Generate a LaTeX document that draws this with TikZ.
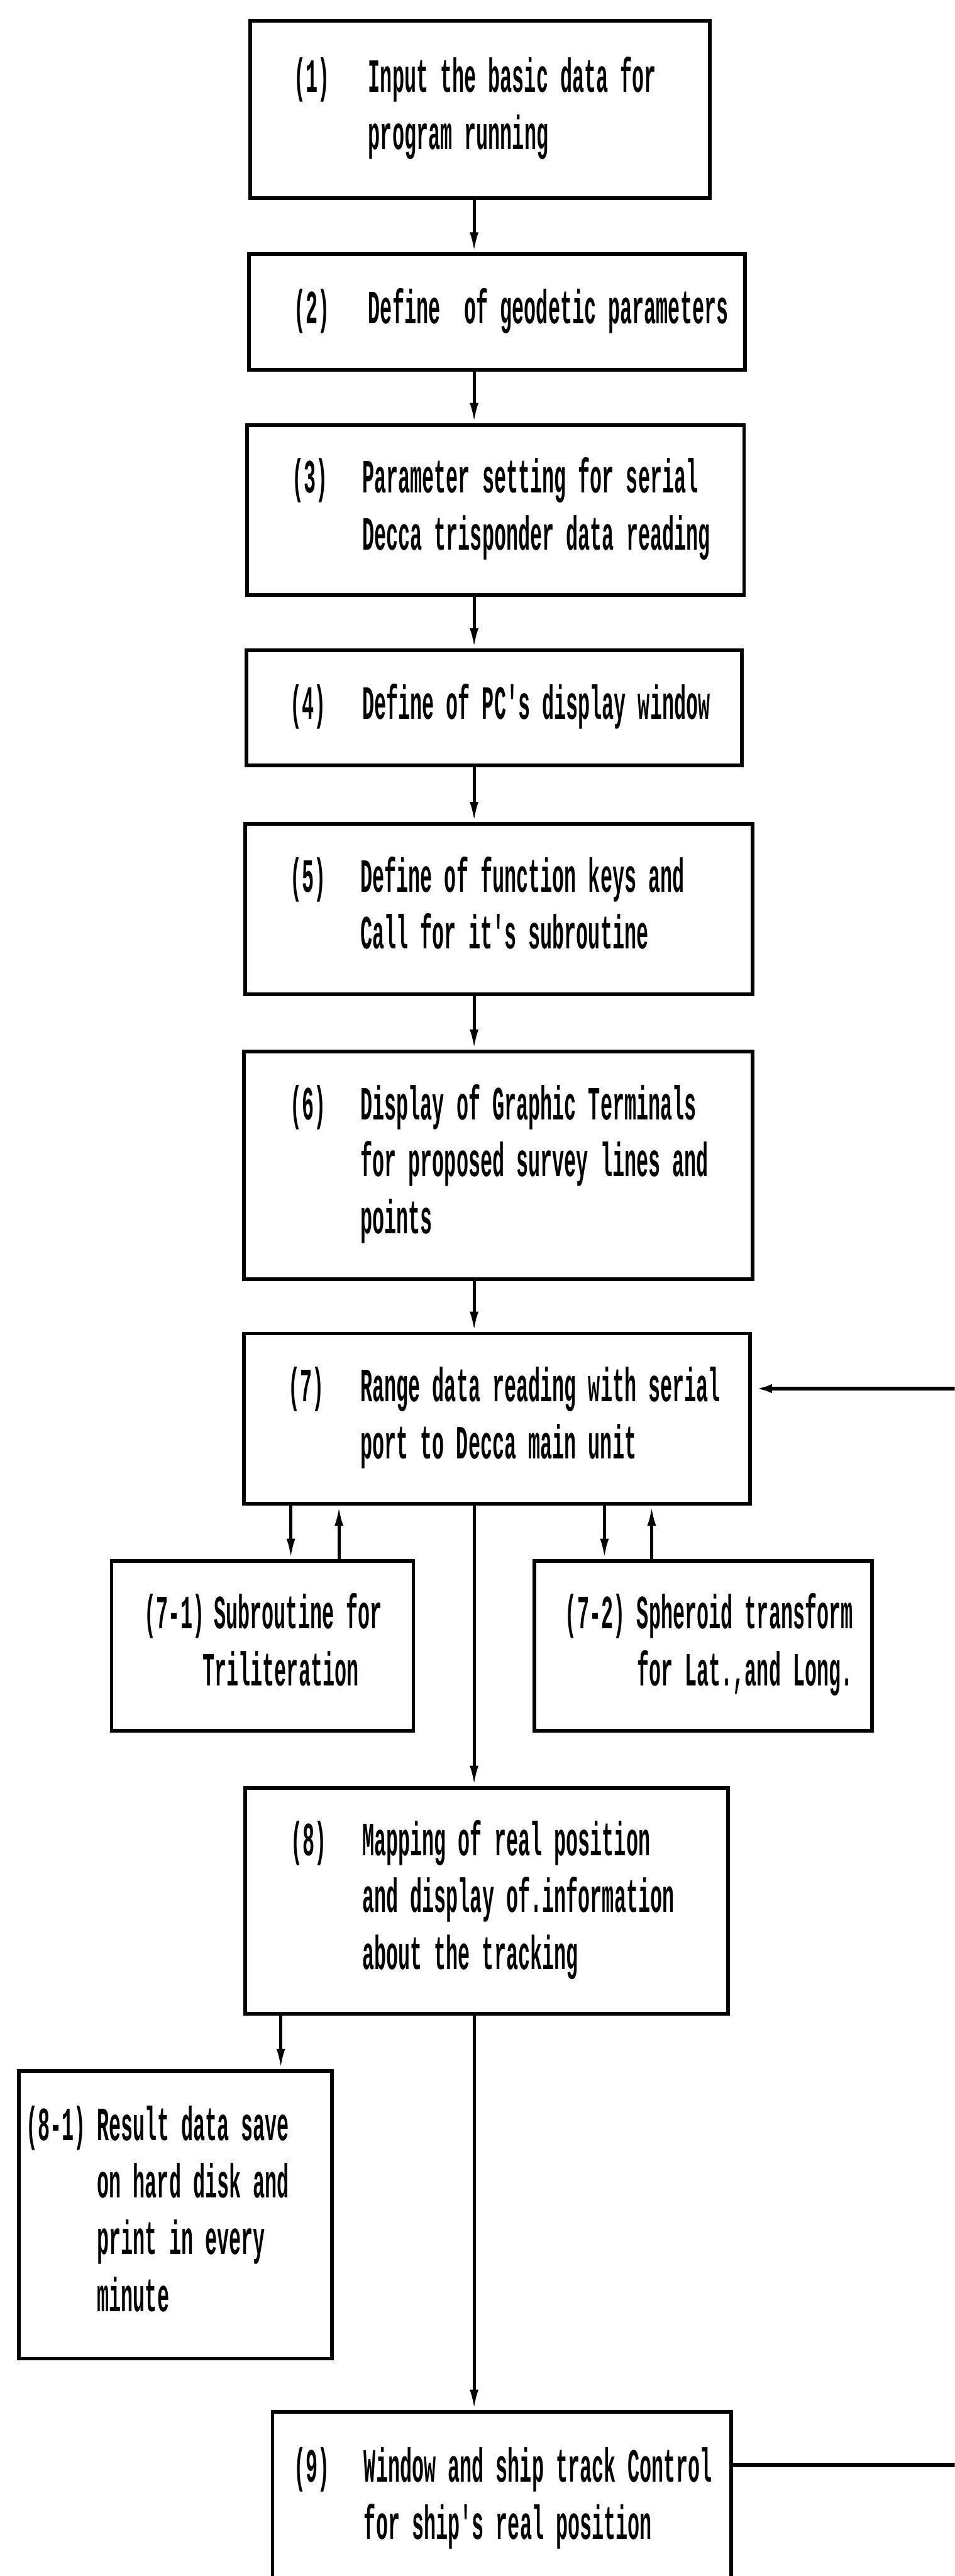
\documentclass[tikz,border=0pt]{standalone}
\usepackage{fontspec}
\newfontfamily\scanfont[FakeStretch=0.42]{Liberation Mono}
\usepackage{tikz}
\usetikzlibrary{arrows.meta}
\usetikzlibrary{positioning}

\tikzset{
  stepbox/.style={draw, line width=2.4pt, anchor=north west, inner xsep=0pt, inner ysep=0pt,
    align=left, font={\scanfont\bfseries\fontsize{31}{37}\selectfont},
    execute at begin node={\spaceskip=0.273cm\relax}},
  flow/.style={line width=2pt, -{Latex[length=0.46cm,width=0.2cm]}},
}

\begin{document}
\begin{tikzpicture}
\useasboundingbox (0,0) rectangle (21.83,-58.88);
\clip (0,0) rectangle (21.83,-58.88);
% main chain
\node[stepbox, text width=10.51cm, minimum height=4.05cm] (b1) at (5.68,-0.43)
  {\hspace*{1cm}\begin{tabular}{@{}p{1.70cm}@{}l@{}}(1) & Input the basic data for\\ & program running\end{tabular}};
\node[stepbox, text width=11.34cm, minimum height=2.64cm] (b2) at (5.65,-5.77)
  {\hspace*{1.03cm}\begin{tabular}{@{}p{1.70cm}@{}l@{}}(2) & Define~ of geodetic parameters\end{tabular}};
\node[stepbox, text width=11.36cm, minimum height=3.89cm] (b3) at (5.61,-9.67)
  {\hspace*{1.02cm}\begin{tabular}{@{}p{1.61cm}@{}l@{}}(3) & Parameter setting for serial\\ & Decca trisponder data reading\end{tabular}};
\node[stepbox, text width=11.33cm, minimum height=2.63cm] (b4) at (5.59,-14.82)
  {\hspace*{1cm}\begin{tabular}{@{}p{1.65cm}@{}l@{}}(4) & Define of PC's display window\end{tabular}};
\node[stepbox, text width=11.61cm, minimum height=3.89cm] (b5) at (5.56,-18.79)
  {\hspace*{1.03cm}\begin{tabular}{@{}p{1.61cm}@{}l@{}}(5) & Define of function keys and\\ & Call for it's subroutine\end{tabular}};
\node[stepbox, text width=11.63cm, minimum height=5.20cm] (b6) at (5.54,-23.99)
  {\hspace*{1.05cm}\begin{tabular}{@{}p{1.61cm}@{}l@{}}(6) & Display of Graphic Terminals\\ & for proposed survey lines and\\ & points\end{tabular}};
\node[stepbox, text width=11.57cm, minimum height=3.89cm] (b7) at (5.54,-30.44)
  {\hspace*{1.01cm}\begin{tabular}{@{}p{1.65cm}@{}l@{}}(7) & Range data reading with serial\\ & port to Decca main unit\end{tabular}};
% side routines
\node[stepbox, text width=6.90cm, minimum height=3.89cm] (b71) at (2.51,-35.63)
  {\hspace*{0.75cm}\begin{tabular}{@{}p{1.59cm}@{}l@{}}(7-1) & Subroutine for\\ & \hspace*{-0.26cm}Triliteration\end{tabular}};
\node[stepbox, text width=7.72cm, minimum height=3.89cm] (b72) at (12.18,-35.63)
  {\hspace*{0.70cm}\begin{tabular}{@{}p{1.64cm}@{}l@{}}(7-2) & Spheroid transform\\ & for Lat.,and Long.\end{tabular}};
\node[stepbox, text width=11.03cm, minimum height=5.17cm] (b8) at (5.57,-40.82)
  {\hspace*{1.03cm}\begin{tabular}{@{}p{1.64cm}@{}l@{}}(8) & Mapping of real position\\ & and display of.information\\ & about the tracking\end{tabular}};
\node[stepbox, text width=7.16cm, minimum height=6.58cm] (b81) at (0.39,-47.29)
  {\hspace*{0.16cm}\begin{tabular}{@{}p{1.63cm}@{}l@{}}(8-1) & Result data save\\ & on hard disk and\\ & print in every\\ & minute\end{tabular}};
\node[stepbox, text width=10.49cm, minimum height=4.00cm] (b9) at (6.19,-55.08)
  {\hspace*{0.49cm}\begin{tabular}{@{}p{1.6cm}@{}l@{}}(9) & Window and ship track Control\\ & for ship's real position\end{tabular}};
% taps
\coordinate (spine) at (10.84,0);
\coordinate (tapA) at (6.65,0);
\coordinate (tapB) at (7.75,0);
\coordinate (tapC) at (13.82,0);
\coordinate (tapD) at (14.90,0);
\coordinate (tapE) at (6.42,0);
\draw[flow] (b1.south -| spine) -- (b2.north -| spine);
\draw[flow] (b2.south -| spine) -- (b3.north -| spine);
\draw[flow] (b3.south -| spine) -- (b4.north -| spine);
\draw[flow] (b4.south -| spine) -- (b5.north -| spine);
\draw[flow] (b5.south -| spine) -- (b6.north -| spine);
\draw[flow] (b6.south -| spine) -- (b7.north -| spine);
\draw[flow] (b7.south -| tapA) -- (b71.north -| tapA);
\draw[flow] (b71.north -| tapB) -- (b7.south -| tapB);
\draw[flow] (b7.south -| tapC) -- (b72.north -| tapC);
\draw[flow] (b72.north -| tapD) -- (b7.south -| tapD);
\draw[flow] (b7.south -| spine) -- (b8.north -| spine);
\draw[flow] (b8.south -| tapE) -- (b81.north -| tapE);
\draw[flow] (b8.south -| spine) -- (b9.north -| spine);
% loop back
\draw[flow, line width=2.6pt] ([yshift=-1.26cm]b9.north east) -- ++(6,0) |- ([yshift=-1.30cm]b7.north east);
\end{tikzpicture}
\end{document}
